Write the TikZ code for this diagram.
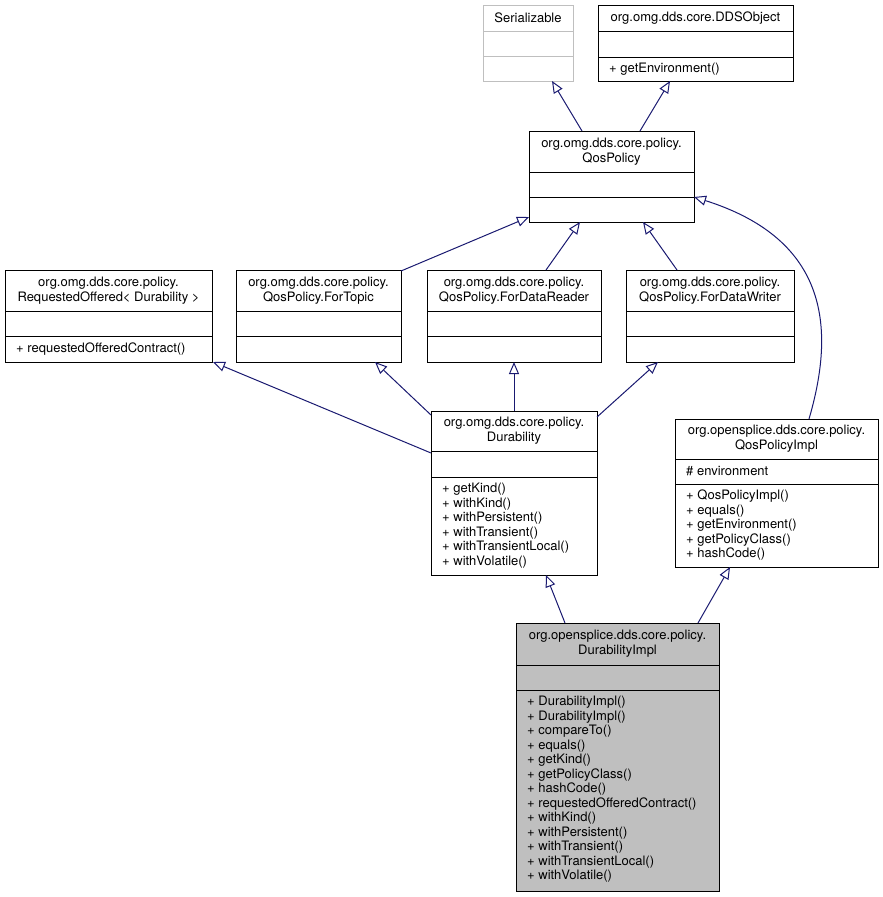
\documentclass[tikz,border=0pt]{standalone}
\usepackage{fontspec}
\setmainfont{TeX Gyre Heros}
\usetikzlibrary{arrows.meta,fit,calc}
\definecolor{edgeblue}{HTML}{191970}
\definecolor{lightborder}{HTML}{BFBFBF}
\definecolor{implfill}{HTML}{BFBFBF}
\tikzset{
  cls/.style={draw=black, line width=1pt, fill=white, inner sep=0pt, outer sep=0pt},
  clsdim/.style={draw=lightborder, line width=1pt, fill=white, inner sep=0pt, outer sep=0pt},
  clsgray/.style={draw=black, line width=1pt, fill=implfill, inner sep=0pt, outer sep=0pt},
  titletext/.style={font=\fontsize{13}{14.8}\selectfont, align=center, inner sep=0pt},
  membtext/.style={font=\fontsize{13}{14.5}\selectfont, align=left, inner sep=0pt, anchor=north west},
  inh/.style={draw=edgeblue, line width=1pt, -{Triangle[open, length=12pt, width=10pt]}},
}
\newcommand\ucls[9]{%
  \node[#2, fit={(#3,#4)(#5,#6)}] (#1) {};
  \draw[#2] (#3,#7) -- (#5,#7) (#3,#8) -- (#5,#8);
  \node[titletext] at ({(#3+#5)/2},{(#4+#7)/2}) {#9};
}
\begin{document}
\begin{tikzpicture}[x=1pt,y=-1pt]
\useasboundingbox (0,0) rectangle (883,897);

\ucls{ser}{clsdim}{483}{5}{573}{81}{31}{56}{Serializable}
\ucls{dds}{cls}{598}{5}{793}{81}{31}{57}{org.omg.dds.core.DDSObject}
\node[membtext, anchor=west] at (609,69) {+ getEnvironment()};

\ucls{qos}{cls}{529}{131}{694}{222}{172}{197}{org.omg.dds.core.policy.\\QosPolicy}

\ucls{ro}{cls}{5}{270}{212}{362}{311}{336}{org.omg.dds.core.policy.\\RequestedOffered< Durability >}
\node[membtext, anchor=west] at (16,349) {+ requestedOfferedContract()};
\ucls{ft}{cls}{236}{270}{401}{362}{311}{336}{org.omg.dds.core.policy.\\QosPolicy.ForTopic}
\ucls{fdr}{cls}{427}{270}{601}{362}{311}{336}{org.omg.dds.core.policy.\\QosPolicy.ForDataReader}
\ucls{fdw}{cls}{626}{270}{794}{362}{311}{336}{org.omg.dds.core.policy.\\QosPolicy.ForDataWriter}

\ucls{dur}{cls}{431}{411}{597}{575}{451}{477}{org.omg.dds.core.policy.\\Durability}
\node[membtext] at (442,483) {+ getKind()\\+ withKind()\\+ withPersistent()\\+ withTransient()\\+ withTransientLocal()\\+ withVolatile()};

\ucls{qpi}{cls}{675}{419}{878}{567}{459}{484}{org.opensplice.dds.core.policy.\\QosPolicyImpl}
\node[membtext, anchor=west] at (686,471.5) {\# environment};
\node[membtext] at (686,490) {+ QosPolicyImpl()\\+ equals()\\+ getEnvironment()\\+ getPolicyClass()\\+ hashCode()};

\ucls{di}{clsgray}{516}{623}{719}{891}{665}{690}{org.opensplice.dds.core.policy.\\DurabilityImpl}
\node[membtext] at (527,696) {+ DurabilityImpl()\\+ DurabilityImpl()\\+ compareTo()\\+ equals()\\+ getKind()\\+ getPolicyClass()\\+ hashCode()\\+ requestedOfferedContract()\\+ withKind()\\+ withPersistent()\\+ withTransient()\\+ withTransientLocal()\\+ withVolatile()};

% connectors
\draw[inh] ($(qos.north west)+(53,0)$) -- ($(ser.south west)+(69,0)$);
\draw[inh] ($(qos.north west)+(111,0)$) -- ($(dds.south west)+(72,0)$);
\draw[inh] ($(ft.north east)+(0,1)$) -- ($(qos.south west)+(0,-5)$);
\draw[inh] ($(fdr.north west)+(119,0)$) -- ($(qos.south west)+(51,0)$);
\draw[inh] ($(fdw.north west)+(51,0)$) -- ($(qos.south west)+(114,0)$);
\draw[inh] ($(qpi.north west)+(134,0)$) .. controls (835,330) and (830,240) .. ($(qos.south east)+(0,-25)$);
\draw[inh] ($(dur.north west)+(0,42)$) -- ($(ro.south east)+(1,0)$);
\draw[inh] ($(dur.north west)+(0,4)$) -- ($(ft.south west)+(139,0)$);
\draw[inh] (dur.north) -- (fdr.south);
\draw[inh] ($(dur.north east)+(0,6)$) -- ($(fdw.south west)+(32,0)$);
\draw[inh] ($(di.north west)+(49,0)$) -- ($(dur.south west)+(115,0)$);
\draw[inh] ($(di.north west)+(182,0)$) -- ($(qpi.south west)+(55,0)$);
\end{tikzpicture}
\end{document}
